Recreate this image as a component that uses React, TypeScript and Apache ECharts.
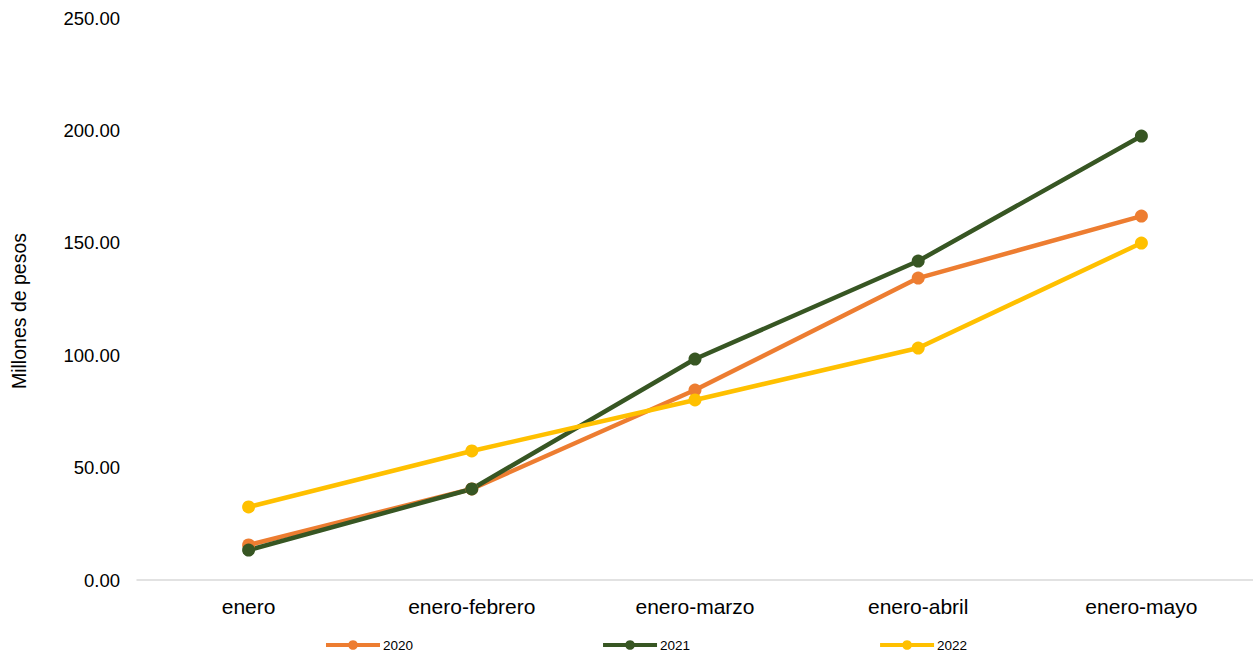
import React, { useEffect, useRef } from "react";
import * as echarts from "echarts";

const categories = ["enero", "enero-febrero", "enero-marzo", "enero-abril", "enero-mayo"];
const s2020 = [15.6, 40.5, 84.5, 134.3, 161.9];
const s2021 = [13.3, 40.5, 98.3, 141.9, 197.5];
const s2022 = [32.5, 57.4, 80.1, 103.2, 149.9];
const yTicks = [0, 50, 100, 150, 200, 250];

const FONT = "Liberation Sans, Arial, sans-serif";

export default function App() {
  const ref = useRef<HTMLDivElement>(null);
  useEffect(() => {
    const chart = echarts.init(ref.current!, null, { renderer: "svg" });
    const mk = (name: string, data: number[], color: string) => ({
      name,
      type: "line",
      data,
      symbol: "circle",
      symbolSize: 13,
      lineStyle: { width: 4.5, color },
      itemStyle: { color },
    });
    chart.setOption({
      animation: false,
      textStyle: { fontFamily: FONT },
      grid: { left: 137, right: 0, top: 18, bottom: 73 },
      legend: {
        top: 638,
        left: 324,
        padding: 0,
        itemWidth: 54,
        itemHeight: 12,
        itemGap: 188,
        lineStyle: { width: 4 },
        textStyle: { fontSize: 13.5, color: "#000", fontFamily: FONT, padding: [0, 0, 0, -2] },
        data: ["2020", "2021", "2022"],
      },
      xAxis: {
        type: "category",
        data: categories,
        axisLine: { lineStyle: { color: "#d9d9d9", width: 1.5 } },
        axisTick: { show: false },
        axisLabel: { fontSize: 21, color: "#000", margin: 16 },
      },
      yAxis: {
        type: "value",
        min: yTicks[0],
        max: yTicks[yTicks.length - 1],
        interval: 50,
        splitLine: { show: false },
        axisLine: { show: false },
        axisTick: { show: false },
        axisLabel: {
          fontSize: 18.5,
          color: "#000",
          margin: 17,
          formatter: (v: number) => v.toFixed(2),
        },
      },
      graphic: [
        {
          type: "text",
          x: 19,
          y: 311,
          rotation: Math.PI / 2,
          style: {
            text: "Millones de pesos",
            fontSize: 19.5,
            fill: "#000",
            fontFamily: FONT,
            align: "center",
            verticalAlign: "middle",
          },
        },
      ],
      series: [
        mk("2020", s2020, "#ED7D31"),
        mk("2021", s2021, "#375623"),
        mk("2022", s2022, "#FFC000"),
      ],
    });
    return () => chart.dispose();
  }, []);
  return <div ref={ref} style={{ width: 1253, height: 653, position: "absolute", left: 0, top: 0 }} />;
}
